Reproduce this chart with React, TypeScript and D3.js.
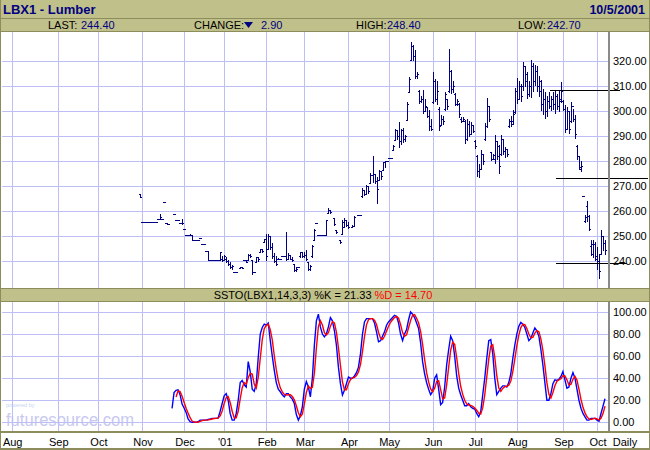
import React from 'react';
import * as d3 from 'd3';

// ---------- DATA ----------
const TITLE = 'LBX1 - Lumber';
const DATE_LABEL = '10/5/2001';
const LAST = '244.40';
const CHANGE = '2.90';
const HIGH_LABEL = '248.40';
const LOW_LABEL = '242.70';
const K_LABEL = '21.33';
const D_LABEL = '14.70';

const HOLIDAYS = ['2000-09-04', '2000-11-23', '2000-12-25', '2001-01-01', '2001-01-15', '2001-02-19',
  '2001-04-13', '2001-05-28', '2001-07-04', '2001-09-03', '2001-09-11', '2001-09-12'];
const MONTH_LABELS = ['Aug', 'Sep', 'Oct', 'Nov', 'Dec', "'01", 'Feb', 'Mar', 'Apr', 'May', 'Jun', 'Jul', 'Aug', 'Sep', 'Oct'];
const PRICE_TICKS = [240, 250, 260, 270, 280, 290, 300, 310, 320];
const STOCH_TICKS = [0, 20, 40, 60, 80, 100];

// price bars start at trading-day index 64 (31 Oct 2000)
const PRICE_START = 64;
const HIGH = [
  266.8, 255.5, 255.5, 255.5, 255.5, 255.5, 255.5, 255.5, 255.5, 256.7,
  258.8, 256.7, 263.5, 255.2, 255, null, null, 259, 256.4, 256.4,
  255.2, 257, 253, 250.4, 250.4, 251, 250.4, 248.3, 248.3, 248.3,
  249.1, 246.8, 246.8, 244.1, 244.1, 240.4, 240.4, 240.4, 240.4, 240.4,
  243.6, 242, 242.3, 241.5, 240.4, 239.5, 238.5, 235.6, 235.6, null,
  237.7, 237.7, 240.4, 240.4, 242.8, 242.8, 240.4, 235.6, 241.7, 241.7,
  245, 245, 249, 251, 251, 250, 247.2, 243.2, 242, 241.2,
  241, 242, 242, 251.7, 243.2, 242.5, 241.5, 239, 237.5, 237.6,
  243.7, 243.7, 243.7, 244.4, 239.7, 238.5, 246.4, 253, 255.1, 250.4,
  250.4, 250.4, 250.4, 256.4, 261.1, 260.5, null, 257.2, 252.4, null,
  248.4, 256.4, 257.2, 256.5, 255.5, null, 254.5, 258, null, 258.4,
  258.4, 269.1, 268.5, 270.4, 270, 275.1, 282, 274.8, 273.7, 276.4,
  276, 279.7, 280, 280, 281.3, 281.3, 286.4, 292.8, 292.5, 295.7,
  293, 293.3, 290.5, 303.7, 313.7, 327.7, 326.5, 324.4, 315.7, 308.4,
  306, 308.4, 305, 301.7, 300.4, 297, 315.7, 313, 312, 301.7,
  298.4, 298, 307.7, 305, 324.7, 316.4, 312, 307.1, 305, 303.1,
  297.7, 297.5, 296.4, 297, 296, 295.7, 294.5, 288.4, 282.4, 279,
  284.4, 283, 295.1, 305.1, 302, 283.7, 283, 290.4, 288, 286.4,
  290.4, 289, 285.7, 285, 297, 298, 300.4, 309.1, 313.1, 312,
  311, 319.7, 318, 315.7, 312, 320.4, 319, 318.4, 318, 314,
  312.4, 309, 307.7, 306, 307.7, 306, 307.5, 308.4, 307, 308,
  311.7, 304.4, 302.5, 301.7, 300, 303.7, 301, 298.5, 286.5, 281.8,
  280, 266.2, 258.4, 263.8, 258.4, 248.4, 248.4, 247.7, 245.7, 243,
  252.4, 250, 248.4,
];
const LOW = [
  265.6, 255.5, 255.5, 255.5, 255.5, 255.5, 255.5, 255.5, 255.5, 256.7,
  256.7, 256.7, 263.5, 255.2, 254.8, null, null, 259, 256.4, 256.4,
  255.2, 255, 253, 250.4, 250.4, 250.4, 248.3, 248.3, 248.3, 248.3,
  249.1, 246.8, 246.8, 244.1, 240.4, 240.4, 240.4, 240.4, 240.4, 240.4,
  240.4, 240.2, 240.4, 239.5, 238.5, 237.1, 237, 235.6, 235.6, null,
  237.1, 237.1, 240.4, 239.7, 240.4, 241.5, 234.8, 235.6, 239.6, 240,
  243.7, 243.7, 247.7, 240.4, 244.7, 244.7, 241.2, 239.5, 238.4, 240.8,
  241, 242, 242, 240.4, 241, 240.8, 240, 236.1, 236.1, 237.6,
  241.5, 241.5, 241.5, 240.4, 236.4, 236.4, 241.7, 248.4, 255.1, 250.4,
  250.4, 250.4, 250.4, 250.4, 259.1, 259.1, null, 254.4, 251.3, null,
  247.3, 251, 253.5, 254, 253.2, null, 253.5, 254, null, 258.4,
  258.4, 265.7, 266.5, 267.1, 267.1, 271.1, 271.7, 271.1, 263.3, 272.4,
  273, 276.4, 277.5, 280, 281.3, 281.3, 284.4, 288.4, 289, 285.7,
  287, 287.7, 288, 296.4, 307.7, 320.4, 320.5, 313.1, 313.1, 303.1,
  303.5, 299.1, 300, 297.7, 292.4, 292.5, 303.1, 304, 303, 292.4,
  294.4, 295, 300.4, 301, 307.7, 307.1, 307.5, 302.4, 302.5, 297.7,
  295.7, 296, 287.1, 288.4, 290, 291, 291.5, 285.1, 274, 273.7,
  277.1, 279, 288.4, 293.7, 296, 280.4, 281, 279.1, 281, 275.1,
  282.4, 283, 281.7, 282, 293.7, 294, 295, 299.1, 303.1, 305,
  304, 308.4, 310, 305.1, 306, 305.7, 308, 310.4, 308, 306,
  300.4, 299, 297.1, 298, 301.1, 300.5, 301, 299.1, 301, 300,
  303.7, 300.4, 291.7, 293, 291.1, 295.7, 296, 289.3, 280.6, 276.6,
  276, 265.8, 255.5, 255.9, 252.4, 242.4, 241.7, 240.4, 237, 233.1,
  243.1, 244.5, 242.7,
];
const OPEN = [
  266.8, 255.5, 255.5, 255.5, 255.5, 255.5, 255.5, 255.5, 255.5, 256.7,
  256.7, 256.7, 263.5, 255.2, 255, null, null, 259, 256.4, 256.4,
  255.2, 255.2, 253, 250.4, 250.4, 250.4, 250.4, 248.3, 248.3, 248.3,
  249.1, 246.8, 246.8, 244.1, 244.1, 240.4, 240.4, 240.4, 240.4, 240.4,
  240.4, 241, 240.5, 241, 240, 239, 237.5, 235.6, 235.6, null,
  237.1, 237.7, 240.4, 240.4, 240.4, 242.5, 240.4, 235.6, 239.6, 241.5,
  243.7, 245, 247.7, 249, 244.7, 250, 245.5, 242, 240, 241,
  241, 242, 242, 242, 241, 242.5, 241, 239, 236.5, 237.6,
  242, 243.5, 242, 242.5, 239.7, 237, 242, 248.4, 255.1, 250.4,
  250.4, 250.4, 250.4, 250.4, 259.1, 260.5, null, 257.2, 252.4, null,
  248.4, 251, 253.5, 256.5, 254.5, null, 253.5, 254, null, 258.4,
  258.4, 266, 268.5, 267, 270, 271.1, 274.5, 274.8, 272, 272.4,
  276, 276.4, 279.5, 280, 281.3, 281.3, 284.4, 288.5, 292.5, 290,
  288, 292.5, 289, 296.4, 307.7, 320.4, 326, 322, 314, 308,
  304, 305, 300, 301.7, 298, 294, 303.5, 312, 305, 301,
  294.5, 297, 301, 305, 308, 316, 309, 307, 303, 303,
  297, 296, 296, 289, 295, 291, 294.5, 288, 282, 276,
  277, 283, 289, 294, 302, 283.7, 281, 281, 288, 286,
  283, 289, 284, 285, 294, 296, 296, 299.5, 308, 305,
  310, 310, 318, 315, 307, 310, 318, 312, 316, 310,
  312, 303, 305, 300, 304, 302, 305, 303, 306, 302,
  304, 304, 301, 293, 300, 296, 302, 297, 286, 282,
  277, 266.2, 256, 262, 258, 246, 243, 247, 242, 240,
  243, 250, 247.3,
];
const CLOSE = [
  265.6, 255.5, 255.5, 255.5, 255.5, 255.5, 255.5, 255.5, 255.5, 256.7,
  257.6, 256.7, 263.5, 255.2, 254.8, null, null, 259, 256.4, 256.4,
  255.2, 255.2, 253, 250.4, 250.4, 250.4, 248.3, 248.3, 248.3, 248.3,
  249.1, 246.8, 246.8, 244.1, 240.4, 240.4, 240.4, 240.4, 240.4, 240.4,
  243.6, 240.5, 241.8, 240, 239, 237.5, 238, 235.6, 235.6, null,
  237.7, 237.4, 240.4, 239.8, 242.5, 242, 235.5, 235.6, 241.5, 240.8,
  245, 244, 249, 242, 250, 245.5, 242, 240, 239, 241,
  241, 242, 242, 241, 242.5, 241, 240.5, 236.5, 237, 237.6,
  243.5, 242, 242.5, 241, 237, 238, 246, 252.5, 255.1, 250.4,
  250.4, 250.4, 250.4, 256.4, 260.5, 259.5, null, 254.8, 251.5, null,
  247.5, 255.5, 256.5, 254.5, 253.5, null, 254, 257.5, null, 258.4,
  258.4, 268.5, 267, 270, 268, 274.5, 275, 272, 269, 276,
  274, 279.5, 280, 280, 281.3, 281.3, 286, 292.5, 290, 288,
  292.5, 289, 290, 303, 313, 326, 322, 314, 315, 304,
  305, 300, 302, 298, 294, 293, 312, 305, 308, 294,
  297, 296, 307, 302, 316, 309, 310, 303, 304, 299,
  296, 297, 289, 295, 291, 294.5, 292, 286, 276, 277,
  283, 280, 294, 302, 297, 281, 282.5, 288, 282, 278,
  289, 284, 285, 283, 296, 295, 299, 308, 305, 310,
  306, 318, 312, 307, 310, 318, 312, 316, 310, 308,
  303, 305, 300, 304, 302, 305, 303, 306, 302, 305,
  308, 301, 293, 300, 293, 302, 297, 291, 282, 277.5,
  278, 266, 257.5, 258, 253, 247, 247, 241, 240, 236,
  250, 247.3, 244.4,
];

// support / resistance lines drawn on the chart
const LEVEL_PRICE = [308.4, 273.3, 239.2];
const LEVEL_FROM = [268.5, 271.5, 271.5];
const LEVEL_TO = [303.5, 317.5, 307];

// slow stochastic %K, starting at trading-day index 80
const STOCH_START = 80;
const PCT_K = [
  12.7, 27, 29, 29.5, 25, 16.5, 13, 9, 3, 0.5,
  0, 0, 0, 0.5, 2, 2, 2, 2, 2.5, 3,
  3.6, 3.6, 3.6, 4, 10, 17, 24, 26, 20, 8,
  2, 2, 8, 20, 36, 38, 34, 32, 55, 46,
  30, 28, 35, 59, 80, 86, 89, 88, 90, 74,
  60, 47, 36, 30, 27.7, 25, 23, 26, 26, 23,
  21, 17, 7, 2, 6, 14, 30, 37, 32, 23,
  40, 70, 92, 98, 86.5, 80, 77.5, 80, 86.5, 95,
  92, 83, 70, 50, 35, 24.7, 29, 35, 41, 40,
  40, 42, 45, 50, 62, 80, 91, 94, 94, 94,
  94, 90, 82, 73, 74, 78, 82, 88, 91, 93,
  95, 97, 96, 90, 80, 74, 80, 84, 93, 100,
  98, 95, 90, 85, 72, 55, 44, 36, 30, 25,
  28, 40, 43, 30, 16, 18, 32, 52, 66, 78,
  74, 60, 42, 31, 25, 20, 15, 15, 17, 14,
  12.7, 12, 8, 5, 9.7, 25, 40, 58, 74, 75,
  62, 40, 25, 28, 31, 33, 33, 32, 36, 44,
  58, 70, 80, 87, 90.6, 89, 86, 80, 74, 76,
  81, 85.5, 83, 78, 66, 52, 36, 20, 20, 26,
  35, 38.5, 38, 39, 41.5, 46, 38.5, 31, 32, 40,
  45, 40, 30, 20, 12.7, 8, 5, 2, 2, 3.6,
  3.6, 3.6, 2, 1, 8, 14.7, 21.33,
];

// ---------- LAYOUT ----------
const W = 650;
const H = 450;
const PLOT_L = 2;
const PLOT_R = 608;
const P_TOP = 32;
const P_BOT = 288;
const S_TOP = 302;
const S_BOT = 431;
const OLIVE = '#c0c08a';
const OLIVE_DARK = '#8c8c5c';
const GRID = '#bebef6';
const NAVY = '#000080';
const FONT = '"Liberation Sans", Arial, Helvetica, sans-serif';

function buildCalendar(): Date[] {
  const fmt = d3.timeFormat('%Y-%m-%d');
  const days: Date[] = [];
  const end = new Date(2001, 9, 5);
  for (let d = new Date(2000, 7, 1); d <= end; d.setDate(d.getDate() + 1)) {
    const wd = d.getDay();
    if (wd === 0 || wd === 6) continue;
    if (HOLIDAYS.includes(fmt(d))) continue;
    days.push(new Date(d));
  }
  return days;
}

export default function App() {
  const days = buildCalendar();
  const monthStarts: number[] = [];
  days.forEach((d, i) => {
    if (i === 0 || d.getMonth() !== days[i - 1].getMonth()) monthStarts.push(i);
  });

  const x = d3.scaleLinear().domain([0, monthStarts[monthStarts.length - 1]]).range([11.7, 597]);
  const yP = d3.scaleLinear().domain([240, 320]).range([261, 61]);
  const yS = d3.scaleLinear().domain([0, 100]).range([422.3, 312]);
  const px = (v: number) => Math.round(v);

  // price bars path: 1px vertical, 1px open/close ticks
  let barPath = '';
  HIGH.forEach((h, k) => {
    const l = LOW[k];
    const o = OPEN[k];
    const c = CLOSE[k];
    if (h == null || l == null || o == null || c == null) return;
    const xi = px(x(PRICE_START + k));
    const yh = px(yP(h));
    const yl = px(yP(l));
    const yo = px(yP(o));
    const yc = px(yP(c));
    barPath += `M${xi + 0.5},${yh}V${yl + 1}`;
    barPath += `M${xi - 1},${yo + 0.5}H${xi + 1}`;
    barPath += `M${xi},${yc + 0.5}H${xi + 2}`;
  });

  const kPts = PCT_K.map((v, k) => [x(STOCH_START + k), yS(v)] as [number, number]);
  const dPts: [number, number][] = [];
  for (let k = 2; k < PCT_K.length; k++) {
    const m = d3.mean(PCT_K.slice(k - 2, k + 1)) as number;
    dPts.push([x(STOCH_START + k), yS(m)]);
  }
  const line = d3.line();

  const fmt2 = d3.format('.2f');

  return (
    <svg width={W} height={H} style={{ position: 'absolute', left: 0, top: 0, display: 'block' }}
      fontFamily={FONT}>
      <rect x={0} y={0} width={W} height={H} fill="#ffffff" />

      {/* header bands */}
      <rect x={0} y={0} width={W} height={18} fill={OLIVE} />
      <line x1={0} x2={W} y1={18.5} y2={18.5} stroke={OLIVE_DARK} />
      <rect x={0} y={19} width={W} height={12} fill={OLIVE} />
      <line x1={0} x2={W} y1={31.5} y2={31.5} stroke={OLIVE_DARK} />
      <text x={3} y={14} fontSize={13} fontWeight="bold" fill={NAVY}>{TITLE}</text>
      <text x={645} y={14} fontSize={12.5} fontWeight="bold" fill={NAVY} textAnchor="end">{DATE_LABEL}</text>
      <g fontSize={11}>
        <text x={48} y={29} fill="#000">LAST:</text>
        <text x={81} y={29} fill={NAVY}>{LAST}</text>
        <text x={194} y={29} fill="#000">CHANGE:</text>
        <path d="M244,22H253L248.5,28Z" fill={NAVY} />
        <text x={261} y={29} fill={NAVY}>{CHANGE}</text>
        <text x={356} y={29} fill="#000">HIGH:</text>
        <text x={387} y={29} fill={NAVY}>{HIGH_LABEL}</text>
        <text x={518} y={29} fill="#000">LOW:</text>
        <text x={547} y={29} fill={NAVY}>{LOW_LABEL}</text>
      </g>

      {/* watermark */}
      <text x={6} y={407} fontSize={5.5} fill="#c8d4f4">powered by</text>
      <text x={6} y={426} fontSize={18} fill="#c9c9ef" textLength={128} lengthAdjust="spacingAndGlyphs">futuresource.com</text>

      {/* grids */}
      <g stroke={GRID} strokeWidth={1} shapeRendering="crispEdges">
        {monthStarts.map((i) => (
          <g key={`v${i}`}>
            <line x1={px(x(i)) + 0.5} x2={px(x(i)) + 0.5} y1={P_TOP} y2={P_BOT} />
            <line x1={px(x(i)) + 0.5} x2={px(x(i)) + 0.5} y1={S_TOP} y2={S_BOT} />
          </g>
        ))}
        {PRICE_TICKS.map((t) => (
          <line key={`hp${t}`} x1={PLOT_L} x2={PLOT_R} y1={px(yP(t)) + 0.5} y2={px(yP(t)) + 0.5} />
        ))}
        {STOCH_TICKS.map((t) => (
          <line key={`hs${t}`} x1={PLOT_L} x2={PLOT_R} y1={px(yS(t)) + 0.5} y2={px(yS(t)) + 0.5} />
        ))}
      </g>

      {/* price bars */}
      <path d={barPath} stroke={NAVY} strokeWidth={1} fill="none" shapeRendering="crispEdges" />

      {/* levels */}
      <g stroke="#000" strokeWidth={1} shapeRendering="crispEdges">
        {LEVEL_PRICE.map((p, k) => (
          <line key={`lv${k}`} x1={px(x(LEVEL_FROM[k]))} x2={px(x(LEVEL_TO[k]))}
            y1={px(yP(p)) + 0.5} y2={px(yP(p)) + 0.5} />
        ))}
      </g>

      {/* stochastic */}
      <path d={line(kPts) || ''} stroke="#0000ff" strokeWidth={1.4} fill="none" />
      <path d={line(dPts) || ''} stroke="#ff0000" strokeWidth={1.4} fill="none" />

      {/* separator band */}
      <rect x={0} y={288} width={W} height={14} fill={OLIVE} />
      <line x1={0} x2={W} y1={288.5} y2={288.5} stroke={OLIVE_DARK} />
      <line x1={0} x2={W} y1={301.5} y2={301.5} stroke={OLIVE_DARK} />
      <text x={323} y={299} fontSize={11} textAnchor="middle">
        <tspan fill="#000">{`SSTO(LBX1,14,3,3) %K = ${K_LABEL} `}</tspan>
        <tspan fill="#ff0000">{`%D = ${D_LABEL}`}</tspan>
      </text>

      {/* right axis */}
      <g shapeRendering="crispEdges" stroke="#8a8a8a" strokeWidth={2}>
        <line x1={PLOT_R + 1} x2={PLOT_R + 1} y1={P_TOP} y2={P_BOT} />
        <line x1={PLOT_R + 1} x2={PLOT_R + 1} y1={S_TOP} y2={S_BOT} />
      </g>
      <g fontSize={11} fill="#000">
        {PRICE_TICKS.map((t) => (
          <text key={`pl${t}`} x={613} y={yP(t) + 4}>{fmt2(t)}</text>
        ))}
        {STOCH_TICKS.map((t) => (
          <text key={`sl${t}`} x={613} y={yS(t) + 4}>{fmt2(t)}</text>
        ))}
      </g>

      {/* bottom axis */}
      <rect x={0} y={431} width={W} height={2} fill={OLIVE_DARK} />
      <g fontSize={11} fill="#000" textAnchor="middle">
        {monthStarts.map((i, k) => (
          <text key={`ml${i}`} x={x(i) + 1} y={446}>{MONTH_LABELS[k]}</text>
        ))}
        <text x={625} y={446}>Daily</text>
      </g>
      <rect x={0} y={448} width={W} height={2} fill={OLIVE_DARK} />

      {/* outer frame */}
      <line x1={0.5} x2={0.5} y1={0} y2={H} stroke={OLIVE_DARK} />
      <line x1={W - 0.5} x2={W - 0.5} y1={0} y2={H} stroke={OLIVE_DARK} />
    </svg>
  );
}
